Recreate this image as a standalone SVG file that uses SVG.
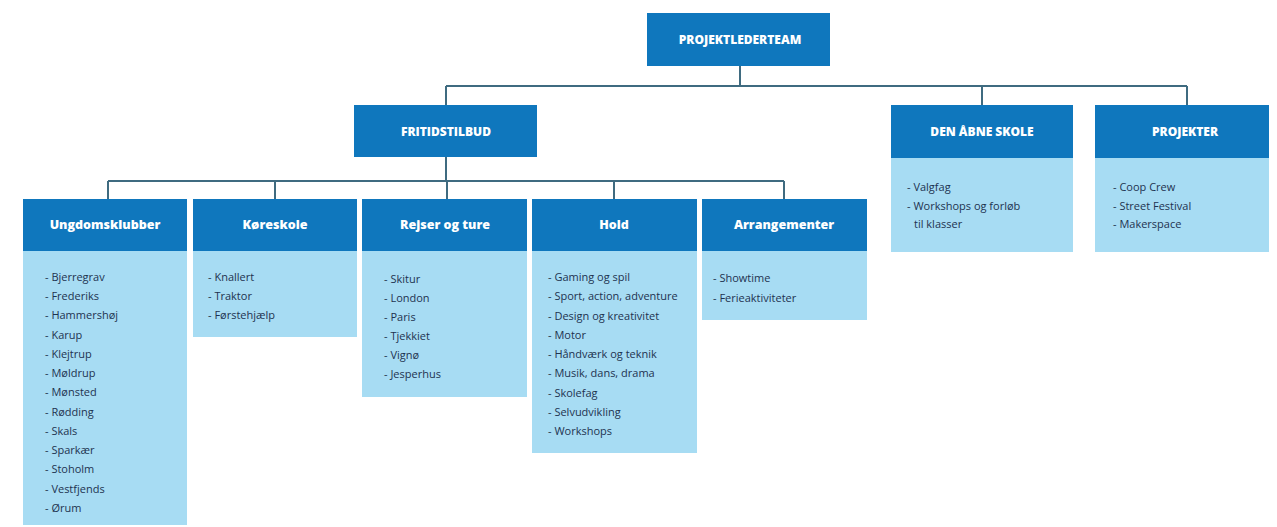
<svg xmlns="http://www.w3.org/2000/svg" width="1277" height="527" viewBox="0 0 1277 527">
<style>
.hd{fill:#0f77bd}
.bd{fill:#a7dcf3}
.ht{font-family:"Open Sans","Liberation Sans",sans-serif;font-weight:800;fill:#ffffff;text-anchor:middle}
.cap{font-size:12px}
.sub{font-size:12.5px}
.it{font-family:"Open Sans","Liberation Sans",sans-serif;font-size:11px;fill:#1e3350}
.ln{stroke:#3f6b80;stroke-width:2;fill:none}
</style>
<rect width="1277" height="527" fill="#ffffff"/>
<g id="connectors">
<path class="ln" d="M740 66V86M446 86H1187M446 86V105M982 86V105M1187 86V105"/>
<path class="ln" d="M446 157V181M108 181H784M108 181V199M275 181V199M447 181V199M614 181V199M784 181V199"/>
</g>
<g id="projektlederteam">
<rect class="hd" x="647" y="13" width="183" height="53"/>
<text class="ht cap" x="740" y="44">PROJEKTLEDERTEAM</text>
</g>
<g id="fritidstilbud">
<rect class="hd" x="354" y="105" width="183" height="52"/>
<text class="ht cap" x="446" y="136">FRITIDSTILBUD</text>
</g>
<g id="den-aabne-skole">
<rect class="bd" x="891" y="158" width="182" height="94"/>
<rect class="hd" x="891" y="105" width="182" height="53"/>
<text class="ht cap" x="982" y="136">DEN ÅBNE SKOLE</text>
<text class="it" x="907" y="191">- Valgfag</text>
<text class="it" x="907" y="210">- Workshops og forløb</text>
<text class="it" x="914" y="228">til klasser</text>
</g>
<g id="projekter">
<rect class="bd" x="1095" y="158" width="174" height="94"/>
<rect class="hd" x="1095" y="105" width="174" height="53"/>
<text class="ht cap" x="1185" y="136">PROJEKTER</text>
<text class="it" x="1113" y="191">- Coop Crew</text>
<text class="it" x="1113" y="210">- Street Festival</text>
<text class="it" x="1113" y="228">- Makerspace</text>
</g>
<g id="ungdomsklubber">
<rect class="bd" x="23" y="251" width="164" height="274"/>
<rect class="hd" x="23" y="199" width="164" height="52"/>
<text class="ht sub" x="105" y="229">Ungdomsklubber</text>
<text class="it" x="45" y="281">- Bjerregrav</text>
<text class="it" x="45" y="300">- Frederiks</text>
<text class="it" x="45" y="319">- Hammershøj</text>
<text class="it" x="45" y="339">- Karup</text>
<text class="it" x="45" y="358">- Klejtrup</text>
<text class="it" x="45" y="377">- Møldrup</text>
<text class="it" x="45" y="396">- Mønsted</text>
<text class="it" x="45" y="416">- Rødding</text>
<text class="it" x="45" y="435">- Skals</text>
<text class="it" x="45" y="454">- Sparkær</text>
<text class="it" x="45" y="473">- Stoholm</text>
<text class="it" x="45" y="493">- Vestfjends</text>
<text class="it" x="45" y="512">- Ørum</text>
</g>
<g id="koereskole">
<rect class="bd" x="193" y="251" width="164" height="86"/>
<rect class="hd" x="193" y="199" width="164" height="52"/>
<text class="ht sub" x="275" y="229">Køreskole</text>
<text class="it" x="208" y="281">- Knallert</text>
<text class="it" x="208" y="300">- Traktor</text>
<text class="it" x="208" y="319">- Førstehjælp</text>
</g>
<g id="rejser-og-ture">
<rect class="bd" x="362" y="251" width="165" height="146"/>
<rect class="hd" x="362" y="199" width="165" height="52"/>
<text class="ht sub" x="445" y="229">Rejser og ture</text>
<text class="it" x="384" y="283">- Skitur</text>
<text class="it" x="384" y="302">- London</text>
<text class="it" x="384" y="321">- Paris</text>
<text class="it" x="384" y="340">- Tjekkiet</text>
<text class="it" x="384" y="359">- Vignø</text>
<text class="it" x="384" y="378">- Jesperhus</text>
</g>
<g id="hold">
<rect class="bd" x="532" y="251" width="165" height="202"/>
<rect class="hd" x="532" y="199" width="165" height="52"/>
<text class="ht sub" x="614" y="229">Hold</text>
<text class="it" x="548" y="281">- Gaming og spil</text>
<text class="it" x="548" y="300">- Sport, action, adventure</text>
<text class="it" x="548" y="320">- Design og kreativitet</text>
<text class="it" x="548" y="339">- Motor</text>
<text class="it" x="548" y="358">- Håndværk og teknik</text>
<text class="it" x="548" y="377">- Musik, dans, drama</text>
<text class="it" x="548" y="397">- Skolefag</text>
<text class="it" x="548" y="416">- Selvudvikling</text>
<text class="it" x="548" y="435">- Workshops</text>
</g>
<g id="arrangementer">
<rect class="bd" x="702" y="251" width="165" height="69"/>
<rect class="hd" x="702" y="199" width="165" height="52"/>
<text class="ht sub" x="784" y="229">Arrangementer</text>
<text class="it" x="713" y="282">- Showtime</text>
<text class="it" x="713" y="302">- Ferieaktiviteter</text>
</g>
</svg>
